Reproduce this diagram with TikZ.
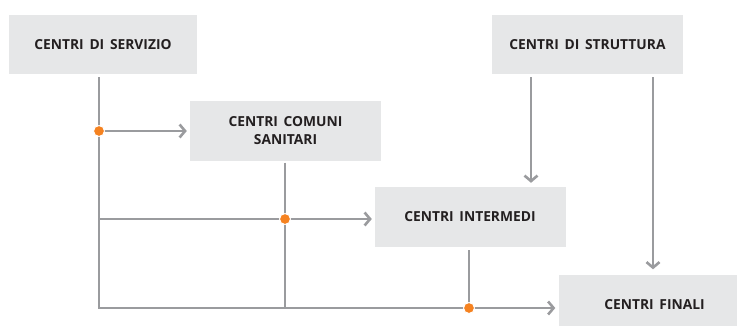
\documentclass[tikz,border=0pt]{standalone}
\usepackage{fontspec}
\setmainfont{Open Sans}[WordSpace=1.6]
\usetikzlibrary{arrows.meta}
\definecolor{boxgray}{HTML}{E6E7E8}
\definecolor{linegray}{HTML}{9A9B9E}
\definecolor{dotorange}{HTML}{F58220}
\definecolor{textdark}{HTML}{231F20}
\begin{document}
\begin{tikzpicture}[x=1pt,y=-1pt,
  box/.style={fill=boxgray, inner sep=0pt, minimum width=191pt, minimum height=60pt,
    font=\bfseries\fontsize{13.8}{18}\selectfont, text=textdark, align=center},
  link/.style={draw=linegray, line width=2.4pt},
  arr/.style={link, -{Straight Barb[length=5.5pt,width=13pt,line width=2.6pt]}},
  dot/.style={circle, fill=dotorange, draw=white, line width=1pt, inner sep=0pt, minimum size=11pt}]
\clip (0,0) rectangle (737,325);

% boxes
\node[box, minimum width=188pt, minimum height=59pt] (serv) at (103,44.5) {CENTRI DI SERVIZIO};
\node[box] (san) at (285.5,131) {CENTRI COMUNI\\SANITARI};
\node[box, minimum height=59pt] (strut) at (587.5,44.5) {CENTRI DI STRUTTURA};
\node[box] (inter) at (470,217) {CENTRI INTERMEDI};
\node[box] (fin) at (654.5,304.5) {CENTRI FINALI};

% junctions
\coordinate (c1) at (99,219);
\coordinate (c2) at (99,308);
\coordinate (c3) at (285,308);
\coordinate (c4) at (469,308);
\coordinate (j1) at (99,131);
\coordinate (j2) at (285,219);

% service trunk and bottom run to the final centres
\draw[arr, shorten <=3pt, shorten >=3.5pt] (serv.south -| c2) -- (c2) -- (c2 -| fin.west);
\draw[arr, shorten >=3pt] (j1) -- (j1 -| san.west);
\draw[arr, shorten >=2.5pt] (c1) -- (c1 -| inter.west);
\draw[link, shorten <=1.5pt] (san.south -| j2) -- (c3);
\draw[link, shorten <=3pt] (inter.south -| c4) -- (c4);

% structure centres feeding down
\draw[arr, shorten <=3pt, shorten >=4pt] ([xshift=-56.5pt]strut.south) -- ([xshift=-56.5pt]strut.south |- inter.north);
\draw[arr, shorten <=3pt, shorten >=5pt] ([xshift=65.5pt]strut.south) -- ([xshift=65.5pt]strut.south |- fin.north);

% junction dots
\node[dot] (d1) at (j1) {};
\node[dot] (d2) at (j2) {};
\node[dot] (d3) at (c4) {};
\end{tikzpicture}
\end{document}
